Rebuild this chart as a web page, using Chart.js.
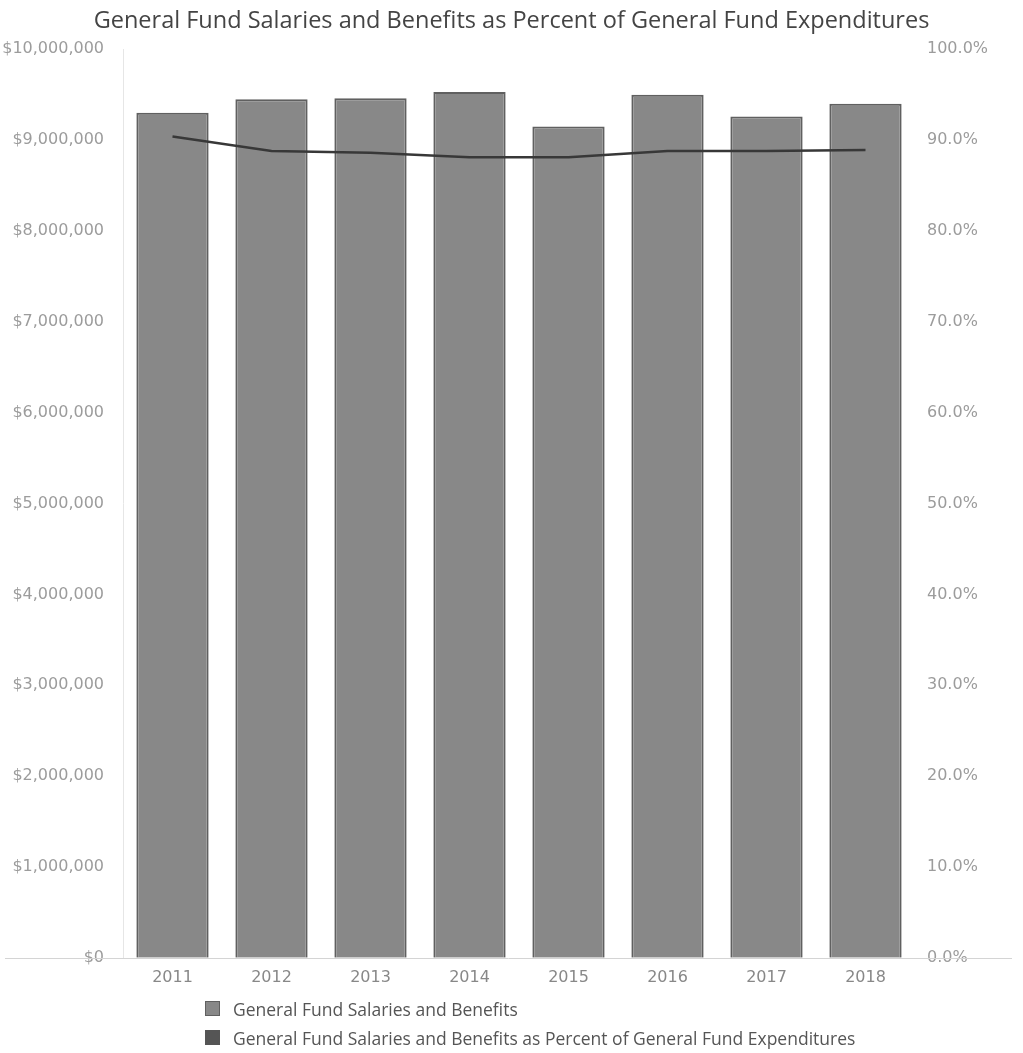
<!DOCTYPE html>
<html>
<head>
<meta charset="utf-8">
<script src="https://cdn.jsdelivr.net/npm/chart.js@4"></script>
<style>
  html, body { margin: 0; padding: 0; background: #fff; }
  #wrap { position: relative; width: 1023px; height: 1053px; }
  #c { position: absolute; left: 0; top: 0; }
  #legend { position: absolute; left: 205px; top: 994px; font-family: "Open Sans", sans-serif; font-size: 17.5px; color: #555; }
  .item { display: flex; align-items: center; height: 29px; }
  .sw { width: 15px; height: 15px; margin-right: 13px; box-sizing: border-box; }
</style>
</head>
<body>
<div id="wrap">
  <canvas id="c" width="1023" height="997"></canvas>
  <div id="legend"></div>
</div>
<script>
const years = ['2011', '2012', '2013', '2014', '2015', '2016', '2017', '2018'];
const salaries = [9300000, 9450000, 9460000, 9530000, 9150000, 9500000, 9260000, 9400000];
const pctOfExpenditures = [90.4, 88.8, 88.6, 88.1, 88.1, 88.8, 88.8, 88.9];
const dollarTicks = [0, 1000000, 2000000, 3000000, 4000000, 5000000, 6000000, 7000000, 8000000, 9000000, 10000000];
const pctTicks = [0, 10, 20, 30, 40, 50, 60, 70, 80, 90, 100];

const barLabel = 'General Fund Salaries and Benefits';
const lineLabel = 'General Fund Salaries and Benefits as Percent of General Fund Expenditures';

// baseline that runs under the axis labels too
const baseLine = {
  id: 'baseLine',
  afterDraw(chart) {
    const y = Math.round(chart.scales.y.getPixelForValue(0)) + 0.5;
    const ctx = chart.ctx;
    ctx.save();
    ctx.strokeStyle = '#d4d4d4';
    ctx.lineWidth = 1;
    ctx.beginPath();
    ctx.moveTo(5, y);
    ctx.lineTo(1012, y);
    ctx.stroke();
    ctx.restore();
  }
};

const tickFont = { family: '"DejaVu Sans", sans-serif', size: 16 };

const chart = new Chart(document.getElementById('c'), {
  type: 'bar',
  data: {
    labels: years,
    datasets: [
      {
        type: 'line',
        label: lineLabel,
        data: pctOfExpenditures,
        yAxisID: 'y2',
        borderColor: '#383838',
        borderWidth: 2.5,
        pointRadius: 0,
        tension: 0,
        order: 0
      },
      {
        label: barLabel,
        data: salaries,
        yAxisID: 'y',
        backgroundColor: '#888888',
        borderColor: '#606060',
        borderWidth: 2,
        barPercentage: 0.73,
        categoryPercentage: 1,
        order: 1
      }
    ]
  },
  options: {
    responsive: false,
    animation: false,
    layout: { padding: { left: 0, right: 0, top: 0, bottom: 8 } },
    plugins: {
      legend: { display: false },
      tooltip: { enabled: false },
      title: {
        display: true,
        text: 'General Fund Salaries and Benefits as Percent of General Fund Expenditures',
        color: '#444',
        font: { family: '"Open Sans", sans-serif', size: 23.5, weight: 'normal' },
        padding: { top: 7, bottom: 14 }
      }
    },
    scales: {
      x: {
        grid: { display: false },
        border: { display: false },
        ticks: { color: '#888', font: tickFont, padding: 2 }
      },
      y: {
        position: 'left',
        min: 0,
        max: 10000000,
        afterBuildTicks(scale) { scale.ticks = dollarTicks.map(v => ({ value: v })); },
        afterFit(scale) { scale.width = 123; },
        grid: { display: false },
        border: { display: true, color: '#e6e6e6' },
        ticks: {
          color: '#9c9c9c',
          font: tickFont,
          padding: 11,
          callback: v => '$' + v.toLocaleString('en-US')
        }
      },
      y2: {
        position: 'right',
        min: 0,
        max: 100,
        afterBuildTicks(scale) { scale.ticks = pctTicks.map(v => ({ value: v })); },
        afterFit(scale) { scale.width = 108; },
        grid: { display: false },
        border: { display: false },
        ticks: {
          color: '#9c9c9c',
          font: tickFont,
          padding: 4,
          callback: v => v.toFixed(1) + '%'
        }
      }
    }
  },
  plugins: [baseLine]
});

// legend as html, bars first, in a column
const legendEl = document.getElementById('legend');
[chart.data.datasets[1], chart.data.datasets[0]].forEach(function(ds, i) {
  const item = document.createElement('div');
  item.className = 'item';
  const sw = document.createElement('span');
  sw.className = 'sw';
  sw.style.background = i === 0 ? ds.backgroundColor : '#555';
  if (i === 0) sw.style.border = '1px solid ' + ds.borderColor;
  item.appendChild(sw);
  item.appendChild(document.createTextNode(ds.label));
  legendEl.appendChild(item);
});
</script>
</body>
</html>
